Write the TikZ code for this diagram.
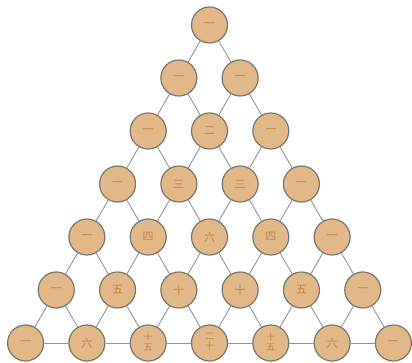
\documentclass[tikz,border=0pt]{standalone}
\usepackage{fontspec}
\newfontfamily\cjk{Noto Sans CJK SC}
\usepackage{xcolor}
\definecolor{Tan}{HTML}{E2B888}
\definecolor{RimGray}{HTML}{7A766A}
\definecolor{EdgeGray}{HTML}{8E959E}
\definecolor{InkOrange}{HTML}{C8843C}
\usepackage{tikz}
\newcommand{\pairchar}[2]{{\fontsize{9}{9}\selectfont\begin{tabular}{@{}c@{}}#1\\[0pt]#2\end{tabular}}}

\tikzset{
  num/.style={circle, draw=RimGray, fill=Tan, line width=1.2pt, minimum size=36pt,
    inner sep=0pt, text=InkOrange, font=\cjk\fontsize{11}{11}\selectfont},
  link/.style={EdgeGray, line width=0.9pt}
}

\begin{document}
\begin{tikzpicture}[x=1pt,y=-1pt]
  \useasboundingbox (0,0) rectangle (412,363);
  \foreach \row [count=\r from 0] in {{一},{一,一},{一,二,一},{一,三,三,一},
      {一,四,六,四,一},{一,五,十,十,五,一},
      {一,六,{\pairchar{十}{五}},{\pairchar{二}{十}},{\pairchar{十}{五}},六,一}}
    \foreach \lab [count=\k from 0] in \row
      \node[num] (n\r-\k) at ({209.5+(\k-\r/2)*61.3},{25+\r*53}) {\lab};
  \foreach \r in {0,...,5}
    \foreach \k in {0,...,\r} {
      \pgfmathtruncatemacro\s{\r+1}
      \pgfmathtruncatemacro\j{\k+1}
      \draw[link] (n\r-\k) -- (n\s-\k);
      \draw[link] (n\r-\k) -- (n\s-\j);
    }
  \foreach \k in {0,...,5} {
    \pgfmathtruncatemacro\j{\k+1}
    \draw[link] (n6-\k) -- (n6-\j);
  }
\end{tikzpicture}
\end{document}
